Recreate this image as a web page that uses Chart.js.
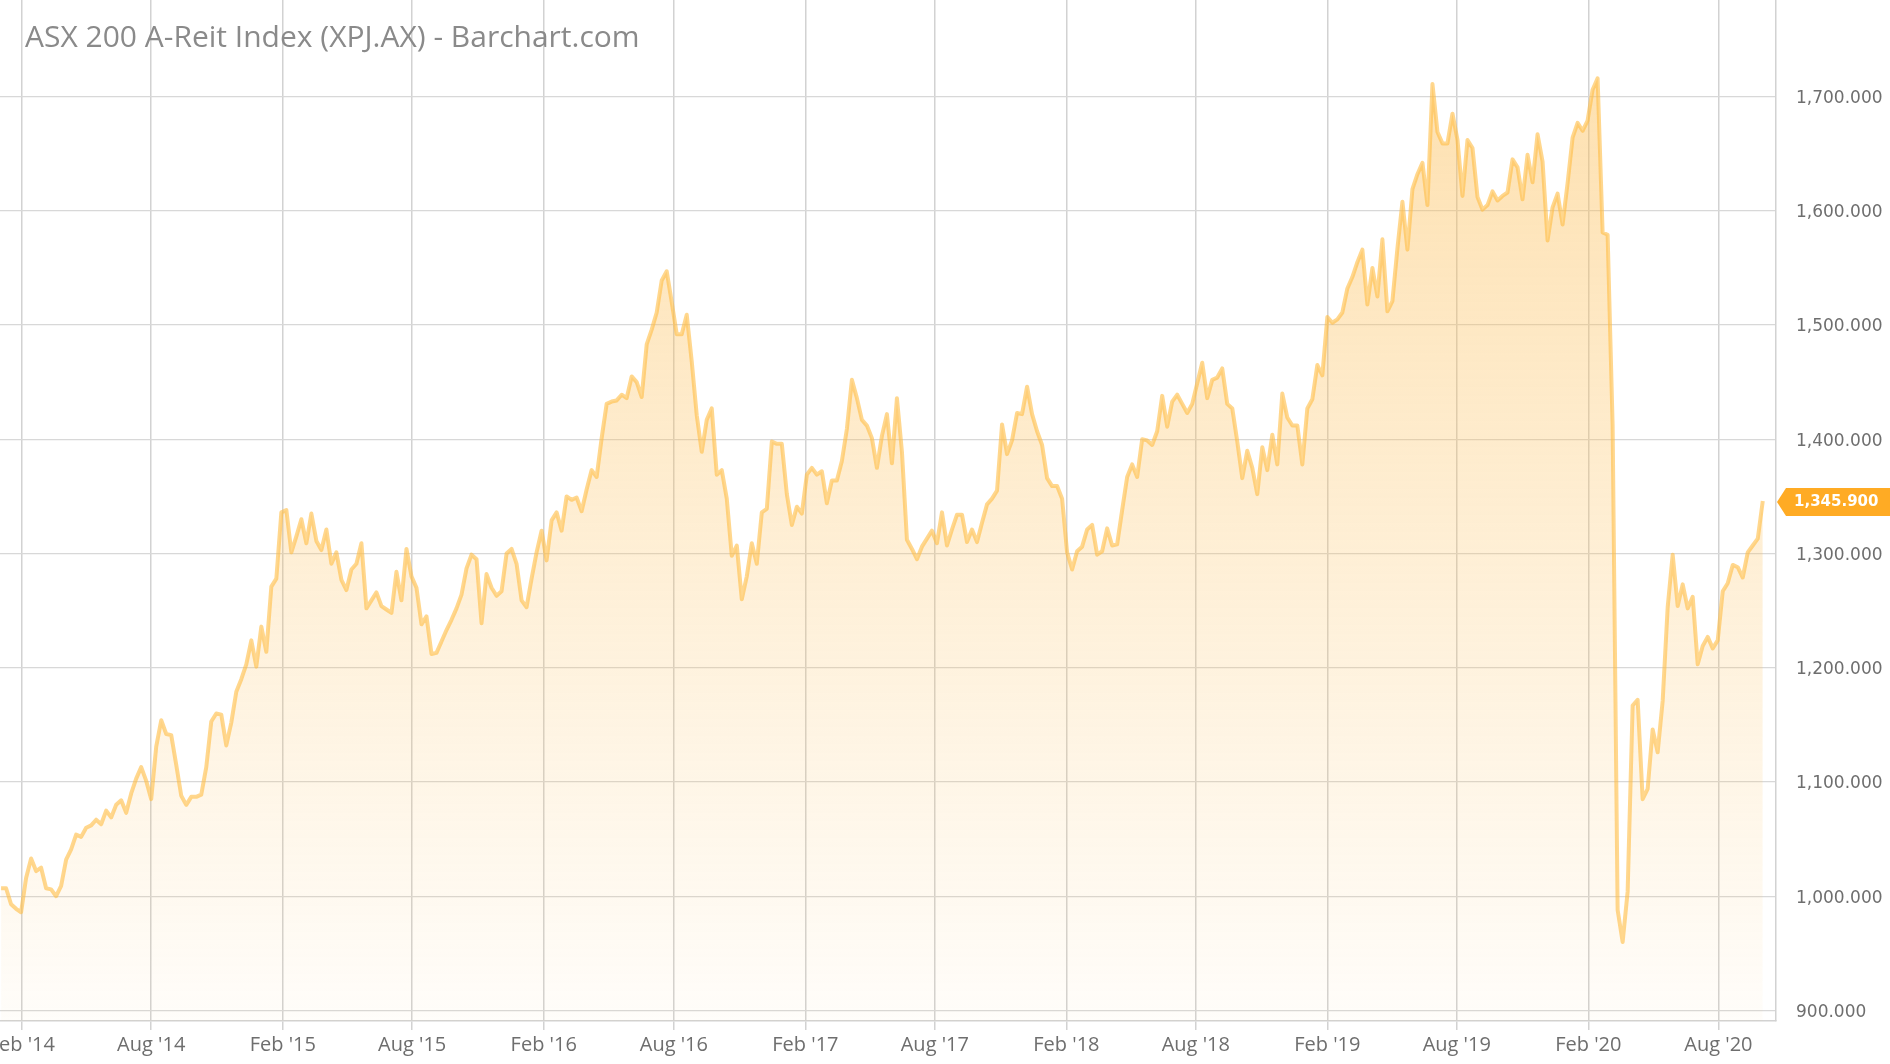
<!DOCTYPE html>
<html>
<head>
<meta charset="utf-8">
<title>ASX 200 A-Reit Index (XPJ.AX)</title>
<script src="https://cdn.jsdelivr.net/npm/chart.js@4.4.1/dist/chart.umd.min.js"></script>
<style>
    html, body {
        margin: 0;
        padding: 0;
        background: #ffffff;
        overflow: hidden;
    }
    #wrap {
        position: absolute;
        left: -40px;
        top: 0;
        width: 1930px;
        height: 1064px;
    }
    #title {
        position: absolute;
        left: 25px;
        top: 21px;
        font-family: "Open Sans", sans-serif;
        font-size: 30px;
        line-height: 30px;
        color: #8a8a8a;
        white-space: nowrap;
        pointer-events: none;
    }
</style>
</head>
<body>
<div id="wrap"><canvas id="priceChart"></canvas></div>
<div id="title">ASX 200 A-Reit Index (XPJ.AX) - Barchart.com</div>

<script>
// Weekly closes, first week ending 2014-01-03
const firstWeek = '2014-01-03';
const weeklyCloses = [
    1007, 1007, 993, 989, 986, 1016, 1033, 1022, 1025, 1007,
    1006, 1000, 1009, 1032, 1041, 1054, 1052, 1060, 1062, 1067,
    1063, 1075, 1069, 1080, 1084, 1073, 1090, 1103, 1113, 1101,
    1085, 1131, 1154, 1142, 1141, 1115, 1088, 1080, 1087, 1087,
    1089, 1113, 1153, 1160, 1159, 1132, 1152, 1179, 1190, 1203,
    1224, 1201, 1236, 1214, 1271, 1278, 1336, 1338, 1301, 1315,
    1330, 1309, 1335, 1311, 1303, 1321, 1291, 1301, 1277, 1268,
    1286, 1291, 1309, 1252, 1259, 1266, 1254, 1251, 1248, 1284,
    1259, 1304, 1280, 1270, 1238, 1245, 1212, 1213, 1223, 1233,
    1242, 1252, 1264, 1287, 1299, 1295, 1239, 1282, 1270, 1263,
    1267, 1300, 1304, 1291, 1259, 1253, 1278, 1301, 1320, 1294,
    1329, 1336, 1320, 1350, 1347, 1349, 1337, 1356, 1373, 1367,
    1401, 1431, 1433, 1434, 1439, 1436, 1455, 1450, 1437, 1483,
    1496, 1511, 1539, 1547, 1520, 1492, 1492, 1509, 1468, 1421,
    1389, 1417, 1427, 1369, 1373, 1348, 1298, 1307, 1260, 1280,
    1309, 1291, 1336, 1339, 1398, 1396, 1396, 1352, 1325, 1341,
    1335, 1369, 1375, 1369, 1372, 1344, 1364, 1364, 1381, 1409,
    1452, 1436, 1417, 1412, 1401, 1375, 1403, 1422, 1379, 1436,
    1389, 1312, 1304, 1295, 1306, 1313, 1320, 1309, 1336, 1307,
    1321, 1334, 1334, 1310, 1321, 1310, 1327, 1343, 1348, 1355,
    1413, 1387, 1399, 1423, 1422, 1446, 1422, 1407, 1395, 1366,
    1359, 1359, 1348, 1301, 1286, 1302, 1306, 1321, 1325, 1299,
    1302, 1322, 1307, 1308, 1338, 1367, 1378, 1367, 1400, 1399,
    1395, 1407, 1438, 1411, 1433, 1439, 1431, 1423, 1431, 1449,
    1467, 1436, 1452, 1454, 1462, 1431, 1427, 1398, 1366, 1390,
    1375, 1352, 1393, 1373, 1404, 1378, 1440, 1419, 1412, 1412,
    1378, 1427, 1435, 1465, 1456, 1507, 1502, 1505, 1511, 1532,
    1542, 1555, 1566, 1518, 1550, 1525, 1575, 1512, 1521, 1567,
    1608, 1566, 1619, 1632, 1642, 1605, 1711, 1669, 1659, 1659,
    1685, 1662, 1613, 1662, 1655, 1612, 1601, 1605, 1617, 1609,
    1613, 1616, 1645, 1638, 1610, 1649, 1625, 1667, 1643, 1574,
    1603, 1615, 1588, 1624, 1664, 1677, 1670, 1679, 1706, 1716,
    1581, 1579, 1412, 988, 960, 1004, 1167, 1172, 1085, 1094,
    1146, 1126, 1171, 1253, 1299, 1254, 1273, 1252, 1262, 1203,
    1219, 1227, 1217, 1224, 1267, 1274, 1290, 1288, 1279, 1301,
    1307, 1313, 1345.9
];

// X axis gridline dates and their labels
const tickDates = [
    '2014-02-01', '2014-08-01', '2015-02-01', '2015-08-01', '2016-02-01', '2016-08-01', '2017-02-01',
    '2017-08-01', '2018-02-01', '2018-08-01', '2019-02-01', '2019-08-01', '2020-02-01', '2020-08-01'
];
const tickLabels = [
    "Feb '14", "Aug '14", "Feb '15", "Aug '15", "Feb '16", "Aug '16", "Feb '17",
    "Aug '17", "Feb '18", "Aug '18", "Feb '19", "Aug '19", "Feb '20", "Aug '20"
];
const yTicks = [900, 1000, 1100, 1200, 1300, 1400, 1500, 1600, 1700];

// days counted from 2014-01-01
const DAY = 86400000;
const origin = Date.UTC(2014, 0, 1);
const toDay = (iso) => (Date.parse(iso + 'T00:00:00Z') - origin) / DAY;

const startDay = toDay(firstWeek);
const points = weeklyCloses.map((v, i) => ({ x: startDay + i * 7, y: v }));
const tickDays = tickDates.map(toDay);
const lastValue = weeklyCloses[weeklyCloses.length - 1];

const fmt3 = (v) => v.toLocaleString('en-US', { minimumFractionDigits: 3, maximumFractionDigits: 3 });

// Last price tag on the right axis
const lastPriceTag = {
    id: 'lastPriceTag',
    afterDraw(chart) {
        const { ctx, chartArea, scales } = chart;
        const y = scales.y.getPixelForValue(lastValue) + 1;
        const left = chartArea.right + 1;
        const h = 14;
        ctx.save();
        ctx.fillStyle = '#ffab24';
        ctx.beginPath();
        ctx.moveTo(left, y);
        ctx.lineTo(left + 9, y - h);
        ctx.lineTo(chart.width, y - h);
        ctx.lineTo(chart.width, y + h);
        ctx.lineTo(left + 9, y + h);
        ctx.closePath();
        ctx.fill();
        ctx.fillStyle = '#ffffff';
        ctx.font = 'bold 15px "DejaVu Sans", sans-serif';
        ctx.textBaseline = 'middle';
        ctx.textAlign = 'left';
        ctx.fillText(fmt3(lastValue), chartArea.right + 18, y);
        ctx.restore();
    }
};

const ctx = document.getElementById('priceChart');

new Chart(ctx, {
    type: 'line',
    data: {
        datasets: [{
            label: 'XPJ.AX',
            data: points,
            borderColor: 'rgba(255, 188, 66, 0.6)',
            borderWidth: 4,
            borderJoinStyle: 'round',
            pointRadius: 0,
            pointHoverRadius: 0,
            tension: 0,
            fill: 'start',
            backgroundColor: (c) => {
                const area = c.chart.chartArea;
                if (!area) return 'rgba(252, 196, 96, 0.2)';
                const g = c.chart.ctx.createLinearGradient(0, area.top, 0, area.bottom);
                g.addColorStop(0, 'rgba(252, 190, 86, 0.5)');
                g.addColorStop(1, 'rgba(252, 190, 86, 0.03)');
                return g;
            }
        }]
    },
    options: {
        responsive: true,
        maintainAspectRatio: false,
        animation: false,
        layout: {
            padding: { left: 40, top: 0, right: 0, bottom: 0 }
        },
        plugins: {
            legend: { display: false },
            tooltip: { enabled: false }
        },
        scales: {
            x: {
                type: 'linear',
                position: 'bottom',
                min: 0.5,
                max: 2484.5,
                afterBuildTicks: (scale) => {
                    scale.ticks = tickDays.map(d => ({ value: d }));
                },
                afterFit: (scale) => {
                    scale.height = 43;
                },
                ticks: {
                    autoSkip: false,
                    maxRotation: 0,
                    padding: 3,
                    color: '#6e6e6e',
                    font: { family: '"Open Sans", sans-serif', size: 20 },
                    callback: (value, index) => tickLabels[index]
                },
                grid: {
                    color: '#d2d2d2',
                    lineWidth: 1.5,
                    drawTicks: true,
                    tickLength: 9
                },
                border: { display: true, color: '#d2d2d2', width: 1.5 }
            },
            y: {
                type: 'linear',
                position: 'right',
                min: 890.8,
                max: 1784.5,
                afterBuildTicks: (scale) => {
                    scale.ticks = yTicks.map(v => ({ value: v }));
                },
                afterFit: (scale) => {
                    // labels sit well inside the plot height, no extra room needed
                    scale.width = 114;
                    scale.paddingTop = 0;
                    scale.paddingBottom = 0;
                },
                ticks: {
                    padding: 20,
                    labelOffset: 2,
                    color: '#6e6e6e',
                    font: { family: '"DejaVu Sans", sans-serif', size: 17 },
                    callback: (value) => fmt3(value)
                },
                grid: {
                    color: '#d8d8d8',
                    lineWidth: 1.2,
                    drawTicks: false
                },
                border: { display: true, color: '#d2d2d2', width: 1.5 }
            }
        }
    },
    plugins: [lastPriceTag]
});
</script>
</body>
</html>
